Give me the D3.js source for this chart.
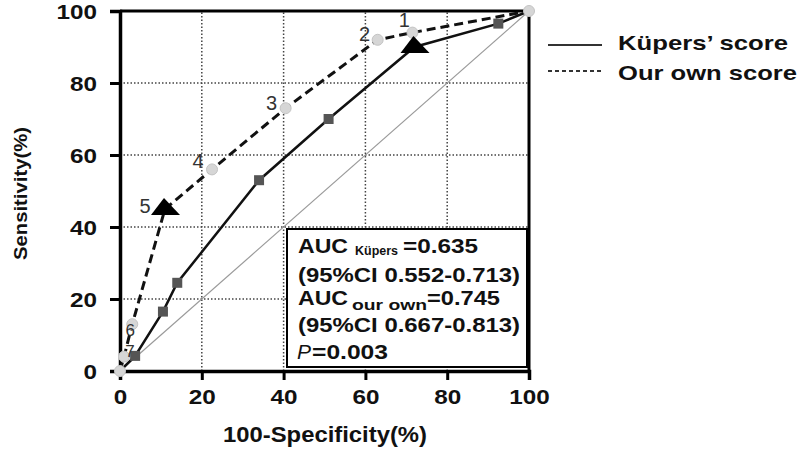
<!DOCTYPE html>
<html>
<head>
<meta charset="utf-8">
<script src="https://d3js.org/d3.v7.min.js"></script>
<style>
  body { margin: 0; background: #fff; }
  svg { display: block; font-family: "Liberation Sans", Arial, sans-serif; }
</style>
</head>
<body>
<script>
// ROC data (100-specificity, sensitivity)
var kupersX = [0, 3.7, 10.5, 14, 34, 51, 72, 92.5, 100];
var kupersY = [0, 4.2, 16.5, 24.5, 53, 70, 90, 96.5, 100];
var kupersTriangle = 6;            // index of the cut-off marked with a triangle

var ownX = [0, 1, 3, 11, 22.5, 40.5, 63, 71.5, 100];
var ownY = [0, 4, 13, 45, 56, 73, 92, 94, 100];
var ownLabels = ["", "7", "6", "5", "4", "3", "2", "1", ""];
var ownTriangle = 3;

var ticks = [0, 20, 40, 60, 80, 100];
var gridTicks = [20, 40, 60, 80];

var W = 800, H = 451;
var svg = d3.select("body").append("svg").attr("width", W).attr("height", H);

var x = d3.scaleLinear().domain([0, 100]).range([120, 529]);
var y = d3.scaleLinear().domain([0, 100]).range([371, 11]);

// dotted grid
svg.append("g").selectAll("line").data(gridTicks).join("line")
  .attr("x1", d => x(d)).attr("x2", d => x(d)).attr("y1", y(0)).attr("y2", y(100))
  .attr("stroke", "#444").attr("stroke-width", 1.5).attr("stroke-dasharray", "1.5,2");
svg.append("g").selectAll("line").data(gridTicks).join("line")
  .attr("y1", d => y(d)).attr("y2", d => y(d)).attr("x1", x(0)).attr("x2", x(100))
  .attr("stroke", "#444").attr("stroke-width", 1.5).attr("stroke-dasharray", "1.5,2");

// chance diagonal
svg.append("line")
  .attr("x1", x(0)).attr("y1", y(0)).attr("x2", x(100)).attr("y2", y(100))
  .attr("stroke", "#9a9a9a").attr("stroke-width", 1.2);

// frame top / right
svg.append("line").attr("x1", x(0)).attr("x2", x(100)).attr("y1", y(100)).attr("y2", y(100))
  .attr("stroke", "#000").attr("stroke-width", 3);
svg.append("line").attr("x1", x(100)).attr("x2", x(100)).attr("y1", y(100)).attr("y2", y(0))
  .attr("stroke", "#000").attr("stroke-width", 3);

// axes
var yAxis = svg.append("g").attr("transform", "translate(" + x(0) + ",0)")
  .call(d3.axisLeft(y).tickValues(ticks).tickSize(10).tickPadding(13));
var xAxis = svg.append("g").attr("transform", "translate(0," + y(0) + ")")
  .call(d3.axisBottom(x).tickValues(ticks).tickSize(9).tickPadding(8));
[yAxis, xAxis].forEach(function(a) {
  a.select(".domain").attr("stroke-width", 3.5);
  a.selectAll(".tick line").attr("stroke-width", 3);
  a.selectAll(".tick text").attr("font-size", 21).attr("font-weight", "bold")
    .attr("font-family", "Liberation Sans, Arial, sans-serif").attr("fill", "#111")
    .attr("textLength", d => String(d).length * 13.5).attr("lengthAdjust", "spacingAndGlyphs");
});
yAxis.selectAll(".tick text").attr("dy", "0.36em");
xAxis.selectAll(".tick text").attr("dy", "0.75em");

// curves
var pts = function(xs, ys) { return xs.map((d, i) => [x(d), y(ys[i])]); };
var line = d3.line();

svg.append("path").attr("d", line(pts(kupersX, kupersY)))
  .attr("fill", "none").attr("stroke", "#111").attr("stroke-width", 2.5);
svg.append("path").attr("d", line(pts(ownX, ownY)))
  .attr("fill", "none").attr("stroke", "#111").attr("stroke-width", 3)
  .attr("stroke-dasharray", "9,5");

// markers
var kPts = pts(kupersX, kupersY);
svg.append("g").selectAll("rect")
  .data(kPts.filter((d, i) => i > 0 && i < kPts.length - 1 && i !== kupersTriangle)).join("rect")
  .attr("x", d => d[0] - 5).attr("y", d => d[1] - 5).attr("width", 10).attr("height", 10)
  .attr("fill", "#555");

var oPts = pts(ownX, ownY);
svg.append("g").selectAll("circle")
  .data(oPts.filter((d, i) => i !== ownTriangle)).join("circle")
  .attr("cx", d => d[0]).attr("cy", d => d[1]).attr("r", 5.5)
  .attr("fill", "#d6d6d6").attr("stroke", "#c4c4c4").attr("stroke-width", 1);

function triangle(p) {
  return "M" + (p[0] - 1) + "," + (p[1] - 11) +
         "L" + (p[0] + 15) + "," + (p[1] + 6) +
         "L" + (p[0] - 14) + "," + (p[1] + 6) + "Z";
}
svg.append("path").attr("d", triangle(kPts[kupersTriangle])).attr("fill", "#000");
svg.append("path").attr("d", triangle(oPts[ownTriangle])).attr("fill", "#000");

// cut-off numbers (the two near the origin are squeezed a little smaller)
var labelOffsets = [null, [6, 0], [-2, 12], [-20, 4], [-14, -1], [-14, 2], [-13, 1], [-8, -6], null];
var labelSize = function(t) { return (t === "6" || t === "7") ? 17 : 20; };
svg.append("g").selectAll("text")
  .data(oPts.map((d, i) => ({p: d, t: ownLabels[i], o: labelOffsets[i]})).filter(d => d.t)).join("text")
  .attr("x", d => d.p[0] + d.o[0]).attr("y", d => d.p[1] + d.o[1])
  .attr("text-anchor", "middle").attr("font-size", d => labelSize(d.t)).attr("fill", "#333")
  .text(d => d.t);

// AUC box
svg.append("rect").attr("x", 287).attr("y", 229).attr("width", 240).attr("height", 138)
  .attr("fill", "#fff").attr("stroke", "#000").attr("stroke-width", 2);

function txt(s, tx, ty, size, w, extra) {
  var t = svg.append("text").attr("x", tx).attr("y", ty).attr("font-size", size)
    .attr("font-weight", "bold").attr("fill", "#111").text(s);
  if (w) t.attr("textLength", w).attr("lengthAdjust", "spacingAndGlyphs");
  if (extra) extra(t);
  return t;
}
txt("AUC", 298, 253, 20, 50);
txt("Küpers", 355, 255, 12, 43);
txt("=0.635", 403, 253, 20, 75);
txt("(95%CI 0.552-0.713)", 298, 282, 20, 222);
txt("AUC", 298, 305, 20, 50);
txt("our own", 352, 310, 15, 75);
txt("=0.745", 427, 305, 20, 73);
txt("(95%CI 0.667-0.813)", 298, 332, 20, 222);
txt("P", 297, 359, 20, 14, t => t.attr("font-style", "italic").attr("font-weight", "normal"));
txt("=0.003", 312, 359, 20, 76);

// axis titles
txt("100-Specificity(%)", 223, 442, 22, 204);
svg.append("text")
  .attr("transform", "translate(27,260) rotate(-90)")
  .attr("font-size", 19).attr("font-weight", "bold").attr("fill", "#111")
  .attr("textLength", 133).attr("lengthAdjust", "spacingAndGlyphs")
  .text("Sensitivity(%)");

// legend
svg.append("line").attr("x1", 548).attr("x2", 602).attr("y1", 45).attr("y2", 45)
  .attr("stroke", "#333").attr("stroke-width", 2);
svg.append("line").attr("x1", 548).attr("x2", 602).attr("y1", 71).attr("y2", 71)
  .attr("stroke", "#333").attr("stroke-width", 2).attr("stroke-dasharray", "4,3");
txt("Küpers’ score", 618, 50, 21, 170);
txt("Our own score", 618, 80, 21, 179);
</script>
</body>
</html>
